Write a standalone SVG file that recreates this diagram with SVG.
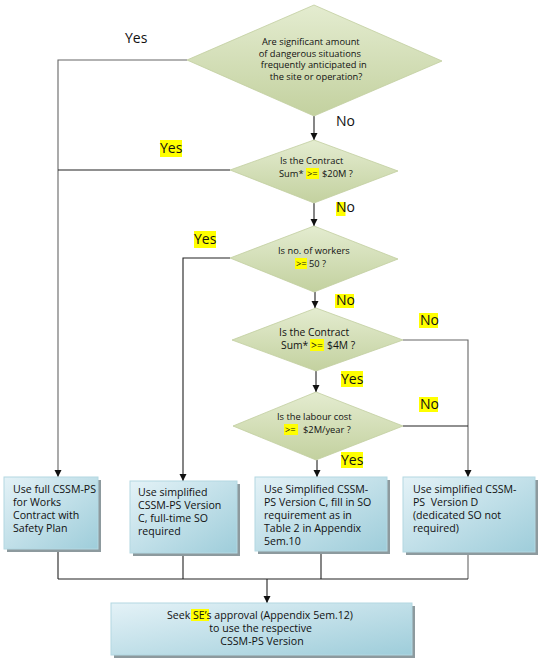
<svg xmlns="http://www.w3.org/2000/svg" width="543" height="660" viewBox="0 0 543 660">
<defs>
  <linearGradient id="gDia" x1="0" y1="0" x2="0" y2="1">
    <stop offset="0" stop-color="#e4ecd0"/>
    <stop offset="1" stop-color="#c3d19f"/>
  </linearGradient>
  <linearGradient id="gBox" x1="0" y1="0" x2="1" y2="1">
    <stop offset="0" stop-color="#e4f2f7"/>
    <stop offset="1" stop-color="#9ecdda"/>
  </linearGradient>
  <marker id="arr" markerWidth="8" markerHeight="8" refX="7" refY="4" orient="auto" markerUnits="userSpaceOnUse">
    <path d="M0,0.5 L7,4 L0,7.5 z" fill="#111"/>
  </marker>
</defs>
<style>
  .dia { fill: url(#gDia); stroke: #c2cea0; stroke-width: 0.8; }
  .box { fill: url(#gBox); stroke: #b3d8e2; stroke-width: 1; }
  .shd { fill: #8d9a9e; }
  .ln { fill: none; stroke: #222; stroke-width: 1.1; }
  .lg { fill: none; stroke: #666; stroke-width: 1.1; }
  .ar { marker-end: url(#arr); }
  .dt { font-family: "Open Sans", "Noto Sans", sans-serif; font-size: 9.3px; fill: #111; }
  .dt2 { font-family: "Open Sans", "Noto Sans", sans-serif; font-size: 10.3px; fill: #111; }
  .bt { font-family: "Open Sans", "Noto Sans", sans-serif; font-size: 10.6px; fill: #111; }
  .lb { font-family: "Open Sans", "Noto Sans", sans-serif; font-size: 14px; fill: #111; }
  .hl { fill: #ffff00; }
</style>

<g id="connectors">
  <polyline class="lg ar" points="187,60 58,60 58,477"/>
  <line class="ln" x1="230" y1="170" x2="58" y2="170"/>
  <polyline class="ln ar" points="230,258 183,258 183,481"/>
  <line class="ln ar" x1="314" y1="116" x2="314" y2="140"/>
  <line class="ln ar" x1="314" y1="203" x2="314" y2="226"/>
  <line class="ln ar" x1="315" y1="292" x2="315" y2="308"/>
  <line class="ln ar" x1="316" y1="371" x2="316" y2="392"/>
  <line class="ln ar" x1="317" y1="460" x2="317" y2="477"/>
  <polyline class="lg ar" points="403,340 468,340 468,477"/>
  <line class="ln" x1="403" y1="426" x2="468" y2="426"/>
  <line class="ln" x1="58" y1="549" x2="58" y2="579"/>
  <line class="ln" x1="183" y1="553" x2="183" y2="579"/>
  <line class="ln" x1="321" y1="551" x2="321" y2="579"/>
  <line class="lg" x1="468" y1="552" x2="468" y2="579"/>
  <line class="ln" x1="58" y1="579" x2="468" y2="579"/>
  <line class="ln ar" x1="267" y1="579" x2="267" y2="603"/>
</g>

<g id="labels">
  <text class="lb" x="125" y="43">Yes</text>
  <text class="lb" x="336" y="126">No</text>
  <rect class="hl" x="160" y="140" width="22" height="17"/>
  <text class="lb" x="160" y="153">Yes</text>
  <rect class="hl" x="336" y="202" width="9.5" height="14"/>
  <text class="lb" x="336" y="212">No</text>
  <rect class="hl" x="194" y="231" width="22" height="17"/>
  <text class="lb" x="194" y="244">Yes</text>
  <rect class="hl" x="335" y="294" width="19" height="14"/>
  <text class="lb" x="336" y="305">No</text>
  <rect class="hl" x="419" y="313" width="19" height="15"/>
  <text class="lb" x="420" y="325">No</text>
  <rect class="hl" x="341" y="371" width="22" height="16"/>
  <text class="lb" x="341" y="384">Yes</text>
  <rect class="hl" x="419" y="397" width="19" height="15"/>
  <text class="lb" x="420" y="409">No</text>
  <rect class="hl" x="341" y="452" width="22" height="16"/>
  <text class="lb" x="341" y="465">Yes</text>
</g>

<g id="d1">
  <polygon class="dia" points="314,5 442,61 314,116 187,60"/>
  <text class="dt" text-anchor="middle">
    <tspan x="312" y="45">Are significant amount</tspan>
    <tspan x="311" y="56.5">of dangerous situations</tspan>
    <tspan x="315" y="68">frequently anticipated in</tspan>
    <tspan x="316" y="79.5">the site or operation?</tspan>
  </text>
</g>

<g id="d2">
  <polygon class="dia" points="314,140 398,171 314,203 230,170"/>
  <text class="dt" x="280" y="164">Is the Contract</text>
  <text class="dt" x="279" y="177">Sum*</text>
  <rect class="hl" x="306" y="168" width="13" height="11"/>
  <text class="dt" x="307" y="177">&gt;=</text>
  <text class="dt" x="322" y="177">$20M ?</text>
</g>

<g id="d3">
  <polygon class="dia" points="314,226 398,259 314,292 230,258"/>
  <text class="dt" x="278" y="254">Is no. of workers</text>
  <rect class="hl" x="295" y="258" width="12" height="11"/>
  <text class="dt" x="296" y="267">&gt;=</text>
  <text class="dt" x="309" y="267">50 ?</text>
</g>

<g id="d4">
  <polygon class="dia" points="316,308 403,340 316,371 232,340"/>
  <text class="dt2" x="279" y="336">Is the Contract</text>
  <text class="dt2" x="281" y="349">Sum*</text>
  <rect class="hl" x="310" y="339" width="14" height="12"/>
  <text class="dt2" x="311" y="349">&gt;=</text>
  <text class="dt2" x="327" y="349">$4M ?</text>
</g>

<g id="d5">
  <polygon class="dia" points="316,392 403,426 316,460 233,426"/>
  <text class="dt" x="277" y="420">Is the labour cost</text>
  <rect class="hl" x="284" y="424" width="14" height="11"/>
  <text class="dt" x="285" y="433">&gt;=</text>
  <text class="dt" x="303" y="433">$2M/year ?</text>
</g>

<g id="b1">
  <rect class="shd" x="7" y="480" width="94" height="72"/>
  <rect class="box" x="4" y="477" width="94" height="72"/>
  <text class="bt">
    <tspan x="13" y="493">Use full CSSM-PS</tspan>
    <tspan x="13" y="506">for Works</tspan>
    <tspan x="13" y="519">Contract with</tspan>
    <tspan x="13" y="532">Safety Plan</tspan>
  </text>
</g>

<g id="b2">
  <rect class="shd" x="133" y="484" width="107" height="72"/>
  <rect class="box" x="130" y="481" width="107" height="72"/>
  <text class="bt">
    <tspan x="138" y="496">Use simplified</tspan>
    <tspan x="138" y="509">CSSM-PS Version</tspan>
    <tspan x="138" y="522">C, full-time SO</tspan>
    <tspan x="138" y="535">required</tspan>
  </text>
</g>

<g id="b3">
  <rect class="shd" x="258" y="480" width="132" height="74"/>
  <rect class="box" x="255" y="477" width="132" height="74"/>
  <text class="bt">
    <tspan x="264" y="493">Use Simplified CSSM-</tspan>
    <tspan x="264" y="506">PS Version C, fill in SO</tspan>
    <tspan x="264" y="519">requirement as in</tspan>
    <tspan x="264" y="532">Table 2 in Appendix</tspan>
    <tspan x="264" y="545">5em.10</tspan>
  </text>
</g>

<g id="b4">
  <rect class="shd" x="406" y="480" width="132" height="75"/>
  <rect class="box" x="403" y="477" width="132" height="75"/>
  <text class="bt">
    <tspan x="413" y="493">Use simplified CSSM-</tspan>
    <tspan x="413" y="506" xml:space="preserve">PS  Version D</tspan>
    <tspan x="413" y="519">(dedicated SO not</tspan>
    <tspan x="413" y="532">required)</tspan>
  </text>
</g>

<g id="b5">
  <rect class="shd" x="114" y="606" width="301" height="52"/>
  <rect class="box" x="111" y="603" width="301" height="52"/>
  <rect class="hl" x="191" y="609" width="18" height="12"/>
  <text class="bt" x="167" y="619">Seek SE’s approval (Appendix 5em.12)</text>
  <text class="bt" text-anchor="middle">
    <tspan x="262" y="632">to use the respective</tspan>
    <tspan x="262" y="645">CSSM-PS Version</tspan>
  </text>
</g>
</svg>
